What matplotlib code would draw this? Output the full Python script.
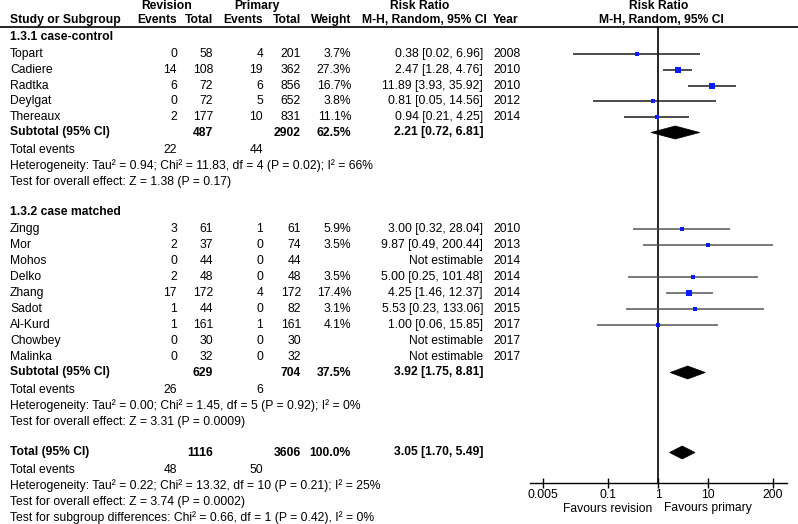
import matplotlib
matplotlib.use("Agg")
import matplotlib.pyplot as plt
from matplotlib.patches import Polygon
import numpy as np

# ---------------- data ----------------
studies_g1 = ["Topart", "Cadiere", "Radtka", "Deylgat", "Thereaux"]
rev_events_g1 = [0, 14, 6, 0, 2]
rev_total_g1 = [58, 108, 72, 72, 177]
pri_events_g1 = [4, 19, 6, 5, 10]
pri_total_g1 = [201, 362, 856, 652, 831]
weight_g1 = [3.7, 27.3, 16.7, 3.8, 11.1]
rr_g1 = [0.38, 2.47, 11.89, 0.81, 0.94]
lo_g1 = [0.02, 1.28, 3.93, 0.05, 0.21]
hi_g1 = [6.96, 4.76, 35.92, 14.56, 4.25]
year_g1 = [2008, 2010, 2010, 2012, 2014]

studies_g2 = ["Zingg", "Mor", "Mohos", "Delko", "Zhang", "Sadot", "Al-Kurd", "Chowbey", "Malinka"]
rev_events_g2 = [3, 2, 0, 2, 17, 1, 1, 0, 0]
rev_total_g2 = [61, 37, 44, 48, 172, 44, 161, 30, 32]
pri_events_g2 = [1, 0, 0, 0, 4, 0, 1, 0, 0]
pri_total_g2 = [61, 74, 44, 48, 172, 82, 161, 30, 32]
weight_g2 = [5.9, 3.5, None, 3.5, 17.4, 3.1, 4.1, None, None]
rr_g2 = [3.00, 9.87, None, 5.00, 4.25, 5.53, 1.00, None, None]
lo_g2 = [0.32, 0.49, None, 0.25, 1.46, 0.23, 0.06, None, None]
hi_g2 = [28.04, 200.44, None, 101.48, 12.37, 133.06, 15.85, None, None]
year_g2 = [2010, 2013, 2014, 2014, 2014, 2015, 2017, 2017, 2017]

sub_labels = ["Subtotal (95% CI)", "Subtotal (95% CI)", "Total (95% CI)"]
sub_rev_total = [487, 629, 1116]
sub_pri_total = [2902, 704, 3606]
sub_weight = ["62.5%", "37.5%", "100.0%"]
sub_rr = [2.21, 3.92, 3.05]
sub_lo = [0.72, 1.75, 1.70]
sub_hi = [6.81, 8.81, 5.49]
sub_rev_events = [22, 26, 48]
sub_pri_events = [44, 6, 50]
het_texts = [
    "Heterogeneity: Tau² = 0.94; Chi² = 11.83, df = 4 (P = 0.02); I² = 66%",
    "Heterogeneity: Tau² = 0.00; Chi² = 1.45, df = 5 (P = 0.92); I² = 0%",
    "Heterogeneity: Tau² = 0.22; Chi² = 13.32, df = 10 (P = 0.21); I² = 25%",
]
overall_texts = [
    "Test for overall effect: Z = 1.38 (P = 0.17)",
    "Test for overall effect: Z = 3.31 (P = 0.0009)",
    "Test for overall effect: Z = 3.74 (P = 0.0002)",
]
subgroup_text = "Test for subgroup differences: Chi² = 0.66, df = 1 (P = 0.42), I² = 0%"
group_titles = ["1.3.1 case-control", "1.3.2 case matched"]
xticks = [0.005, 0.1, 1, 10, 200]
xtick_labels = ["0.005", "0.1", "1", "10", "200"]

# ---------------- layout ----------------
W, H = 798, 524
plt.rcParams['font.family'] = ['Liberation Sans', 'DejaVu Sans']
FS = 8.7
fig = plt.figure(figsize=(W / 100, H / 100), dpi=100)
ax = fig.add_axes([0, 0, 1, 1])
ax.set_xlim(0, W)
ax.set_ylim(H, 0)
ax.axis('off')

X_NAME = 10
X_REV_E, X_REV_T = 177, 213
X_PRI_E, X_PRI_T = 263, 301
X_W = 351
X_CI = 483
X_YEAR = 493

# forest axes: pixel mapping x: 658 + 50*log10(v); y in pixel coords
AX_L, AX_R, AX_T, AX_B = 530, 787, 27, 483
X1 = 658
PPD = 50.0
fx = fig.add_axes([AX_L / W, (H - AX_B) / H, (AX_R - AX_L) / W, (AX_B - AX_T) / H])
fx.set_xscale('log')
fx.set_xlim(10 ** ((AX_L - X1) / PPD), 10 ** ((AX_R - X1) / PPD))
fx.set_ylim(AX_B, AX_T)
fx.patch.set_alpha(0)
for s in ['top', 'right', 'left']:
    fx.spines[s].set_visible(False)
fx.spines['bottom'].set_linewidth(1.0)
fx.set_yticks([])
fx.set_xticks(xticks)
fx.set_xticklabels(xtick_labels, fontsize=FS)
fx.xaxis.set_minor_locator(matplotlib.ticker.NullLocator())
fx.tick_params(axis='x', direction='inout', length=7, width=1, pad=0.5)
fx.axvline(1, color='black', lw=1.2, zorder=1)

def t(x, y, s, ha='left', bold=False, size=FS):
    ax.text(x, y, s, ha=ha, va='center', fontsize=size,
            fontweight='bold' if bold else 'normal')

# header
t(167, 6, "Revision", ha='center', bold=True)
t(257, 6, "Primary", ha='center', bold=True)
t(420, 6, "Risk Ratio", ha='center', bold=True)
t(659, 6, "Risk Ratio", ha='center', bold=True)
t(X_NAME, 20, "Study or Subgroup", bold=True)
t(X_REV_E, 20, "Events", ha='right', bold=True)
t(X_REV_T, 20, "Total", ha='right', bold=True)
t(X_PRI_E, 20, "Events", ha='right', bold=True)
t(X_PRI_T, 20, "Total", ha='right', bold=True)
t(X_W, 20, "Weight", ha='right', bold=True)
t(424, 20, "M-H, Random, 95% CI", ha='center', bold=True)
t(X_YEAR, 20, "Year", bold=True)
t(661, 20, "M-H, Random, 95% CI", ha='center', bold=True)
ax.plot([0, W], [27, 27], color='black', lw=1.2)

def study_rows(y0, step, names, re, rt, pe, pt, w, rr, lo, hi, yr, lc):
    for i, name in enumerate(names):
        y = y0 + step * i
        t(X_NAME, y, name)
        t(X_REV_E, y, str(re[i]), ha='right')
        t(X_REV_T, y, str(rt[i]), ha='right')
        t(X_PRI_E, y, str(pe[i]), ha='right')
        t(X_PRI_T, y, str(pt[i]), ha='right')
        if rr[i] is None:
            t(X_CI, y, "Not estimable", ha='right')
        else:
            t(X_W, y, f"{w[i]:.1f}%", ha='right')
            t(X_CI, y, f"{rr[i]:.2f} [{lo[i]:.2f}, {hi[i]:.2f}]", ha='right')
            fx.plot([lo[i], hi[i]], [y, y], color=lc, lw=1.1, solid_capstyle='butt',
                    clip_on=False, zorder=2)
            side = max(3.2, 1.3 * np.sqrt(w[i]))
            fx.plot([rr[i]], [y], marker='s', color='#0a1cff', markersize=side * 0.72,
                    markeredgewidth=0, clip_on=False, zorder=3)
        t(X_YEAR, y, str(yr[i]))

def diamond(y, rr, lo, hi, h=6.5):
    poly = Polygon([[lo, y], [rr, y - h], [hi, y], [rr, y + h]], closed=True,
                   facecolor='black', edgecolor='black', lw=0.5, zorder=3)
    fx.add_patch(poly)

def summary(y, k):
    t(X_NAME, y, sub_labels[k], bold=True)
    t(X_REV_T, y, str(sub_rev_total[k]), ha='right', bold=True)
    t(X_PRI_T, y, str(sub_pri_total[k]), ha='right', bold=True)
    t(X_W, y, sub_weight[k], ha='right', bold=True)
    t(X_CI, y, f"{sub_rr[k]:.2f} [{sub_lo[k]:.2f}, {sub_hi[k]:.2f}]", ha='right', bold=True)
    diamond(y, sub_rr[k], sub_lo[k], sub_hi[k])
    t(X_NAME, y + 17.5, "Total events")
    t(X_REV_E, y + 17.5, str(sub_rev_events[k]), ha='right')
    t(X_PRI_E, y + 17.5, str(sub_pri_events[k]), ha='right')
    t(X_NAME, y + 33.5, het_texts[k])
    t(X_NAME, y + 49.5, overall_texts[k])

# group 1
t(X_NAME, 37, group_titles[0], bold=True)
study_rows(54, 15.8, studies_g1, rev_events_g1, rev_total_g1, pri_events_g1,
           pri_total_g1, weight_g1, rr_g1, lo_g1, hi_g1, year_g1, '#1a1a1a')
summary(132.5, 0)

# group 2
t(X_NAME, 212, group_titles[1], bold=True)
study_rows(229, 16.0, studies_g2, rev_events_g2, rev_total_g2, pri_events_g2,
           pri_total_g2, weight_g2, rr_g2, lo_g2, hi_g2, year_g2, '#555555')
summary(372.5, 1)

# total
summary(452.5, 2)
t(X_NAME, 518, subgroup_text)

# favours
t(652, 508.5, "Favours revision", ha='right')
t(664, 508.5, "Favours primary", ha='left')

fig.savefig("out.png", dpi=100)
